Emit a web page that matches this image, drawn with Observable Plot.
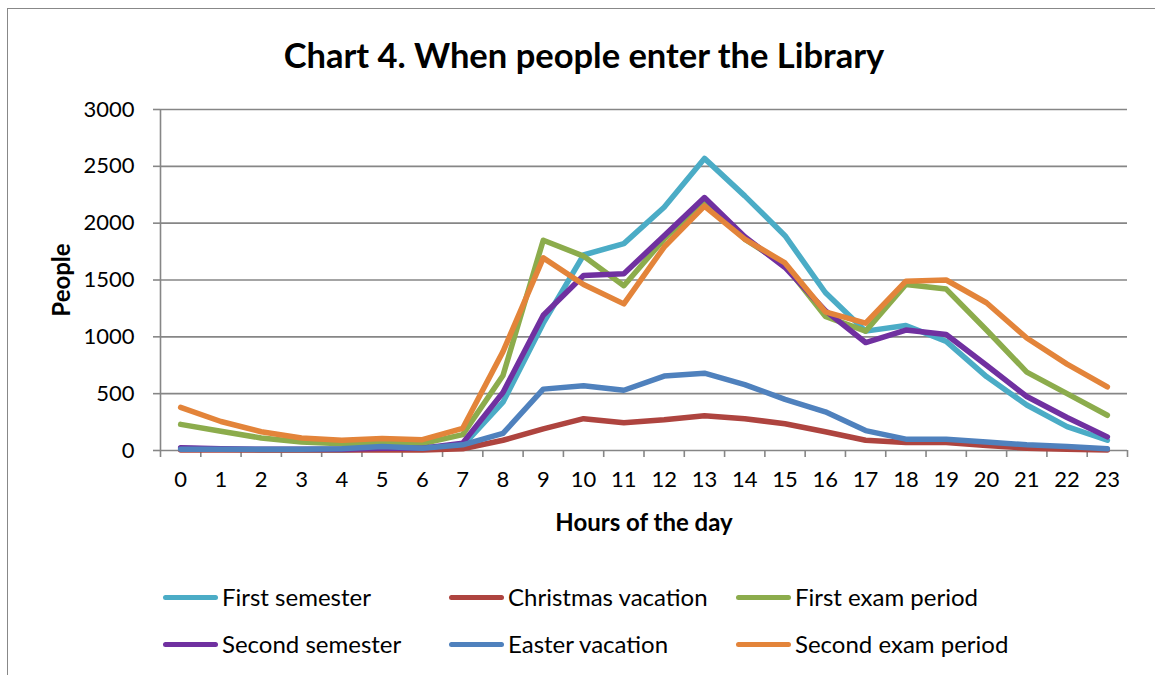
<!DOCTYPE html>
<html><head><meta charset="utf-8">
<script src="https://cdn.jsdelivr.net/npm/d3@7"></script>
<script src="https://cdn.jsdelivr.net/npm/@observablehq/plot@0.6"></script>
<style>
body{margin:0;background:#fff;font-family:Lato,sans-serif;color:#000;}
#frame{position:absolute;left:7px;top:8px;width:1170px;height:720px;border:1.5px solid #888;box-sizing:border-box}
#title{position:absolute;left:0;width:1168px;top:33px;text-align:center;font-weight:bold;font-size:34.5px;line-height:44px}
#chart{position:absolute;left:0;top:85px;}
#legend{position:absolute;left:0;top:0;}
.item{position:absolute;display:flex;align-items:center;font-size:24px;line-height:30px;white-space:nowrap}
.sw{display:inline-block;width:55px;height:5px;border-radius:3px;margin-right:4px}
#chart [aria-label="y-axis label"], #chart [aria-label="x-axis label"]{font-weight:bold;font-size:24px}
</style></head><body>
<div id="frame"></div>
<div id="title">Chart 4. When people enter the Library</div>
<div id="chart"></div>
<div id="legend"></div>
<script>
const hours = [0,1,2,3,4,5,6,7,8,9,10,11,12,13,14,15,16,17,18,19,20,21,22,23];
const seriesNames = ["First semester","Christmas vacation","First exam period","Second semester","Easter vacation","Second exam period"];
const seriesColors = ["#4BACC6","#AE443F","#8CAC4C","#7030A0","#4F81BD","#E3843A"];
const firstSemester  = [20,10,5,5,5,20,15,40,425,1120,1720,1820,2140,2570,2240,1890,1390,1050,1100,960,650,400,210,90];
const christmasVac   = [5,5,5,5,5,5,5,15,90,190,280,245,270,305,280,235,165,90,70,70,45,20,10,5];
const firstExam      = [230,170,110,75,60,70,60,140,660,1850,1710,1450,1860,2190,1860,1630,1180,1050,1460,1420,1060,690,500,310];
const secondSemester = [25,15,10,10,10,20,20,65,510,1190,1540,1555,1890,2225,1880,1610,1230,950,1060,1020,750,475,290,120];
const easterVac      = [10,10,10,10,15,35,20,50,150,540,570,530,655,680,580,450,340,175,100,100,75,50,35,15];
const secondExam     = [380,255,165,110,90,105,95,195,870,1695,1460,1290,1790,2150,1860,1650,1220,1120,1490,1500,1300,990,760,560];
const yTicks = [0,500,1000,1500,2000,2500,3000];

const allSeries = [firstSemester, christmasVac, firstExam, secondSemester, easterVac, secondExam];
const data = [];
allSeries.forEach((vals, i) => hours.forEach((h, j) => data.push({series: seriesNames[i], hour: h, people: vals[j]})));
const boundaries = hours.map(h => h - 0.5).concat([hours[hours.length-1] + 0.5]);
const grey = "#868686";

const chart = Plot.plot({
  width: 1155, height: 460,
  marginTop: 24, marginBottom: 95, marginLeft: 160, marginRight: 28,
  style: {fontFamily: "Lato, sans-serif", fontSize: "22px", color: "#000", background: "transparent"},
  x: {type: "linear", domain: [boundaries[0], boundaries[boundaries.length-1]]},
  y: {domain: [0, 3000]},
  color: {domain: seriesNames, range: seriesColors},
  marks: [
    Plot.gridY(yTicks.slice(1), {stroke: grey, strokeOpacity: 1, strokeWidth: 1.6}),
    Plot.ruleY([0], {stroke: grey, strokeWidth: 1.6}),
    Plot.ruleX([boundaries[0]], {stroke: grey, strokeWidth: 1.6}),
    Plot.axisY(yTicks, {tickSize: 7, tickPadding: 19, stroke: grey, strokeWidth: 1.6, tickFormat: d => String(d), label: "People", labelAnchor: "center", labelOffset: 108, labelArrow: "none"}),
    Plot.axisX(boundaries, {tickSize: 7, stroke: grey, strokeWidth: 1.6, tickFormat: () => "", label: null}),
    Plot.axisX(hours, {tickSize: 0, tickPadding: 21, tickFormat: d => String(d), label: "Hours of the day", labelAnchor: "center", labelOffset: 80, labelArrow: "none"}),
    Plot.line(data, {x: "hour", y: "people", z: "series", stroke: "series", strokeWidth: 5.5, strokeLinejoin: "round", strokeLinecap: "round"})
  ]
});
document.getElementById("chart").appendChild(chart);

const legend = document.getElementById("legend");
const colLeft = [163, 449, 736];
const rowTop = [582, 629];
seriesNames.forEach((name, i) => {
  const it = document.createElement("div");
  it.className = "item";
  it.style.left = colLeft[i % 3] + "px";
  it.style.top = rowTop[Math.floor(i / 3)] + "px";
  const sw = document.createElement("span");
  sw.className = "sw";
  sw.style.background = seriesColors[i];
  it.appendChild(sw);
  it.appendChild(document.createTextNode(name));
  legend.appendChild(it);
});
</script>
</body></html>
